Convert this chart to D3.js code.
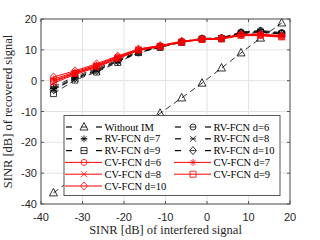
<!DOCTYPE html>
<html>
<head>
<meta charset="utf-8">
<script src="https://cdn.jsdelivr.net/npm/d3@7"></script>
<style>
  body { margin: 0; background: #fff; }
  svg { display: block; }
</style>
</head>
<body>
<script>
var width = 320, height = 240;

// x positions of the measurement points (SINR of interfered signal)
var sinrIn = [-37, -31.8, -26.6, -21.5, -16.5, -11.3, -6.1, -1.2, 3.5, 8.2, 12.9, 18];

var withoutIM = [-36.4, -31.2, -26, -20.9, -15.8, -10.6, -5.6, -0.8, 4.1, 9.0, 13.8, 18.7];

var rv6  = [-2.0, 1.4, 3.9, 6.7, 9.5, 11.2, 12.7, 13.7, 13.9, 15.8, 16.3, 15.6];
var rv7  = [-2.5, 1.0, 3.5, 6.4, 9.3, 11.0, 12.6, 13.6, 13.8, 15.6, 16.0, 15.3];
var rv8  = [-3.0, 0.6, 3.1, 6.2, 9.0, 10.9, 12.5, 13.5, 13.7, 15.4, 15.8, 15.0];
var rv9  = [-4.2, 0.2, 2.8, 5.9, 9.1, 10.8, 12.4, 13.5, 13.6, 15.2, 15.6, 15.2];
var rv10 = [-2.8, 0.8, 3.3, 6.4, 9.2, 11.0, 12.6, 13.6, 13.8, 15.5, 16.0, 15.4];

var cv6  = [0.0, 2.5, 4.8, 7.5, 10.0, 11.2, 12.6, 13.4, 13.6, 14.8, 14.8, 14.3];
var cv7  = [0.5, 2.8, 5.1, 7.8, 10.2, 11.3, 12.7, 13.5, 13.7, 15.0, 15.0, 14.5];
var cv8  = [-0.8, 2.0, 4.3, 7.1, 9.8, 11.0, 12.5, 13.3, 13.5, 14.6, 14.6, 14.1];
var cv9  = [-0.3, 2.3, 4.6, 7.3, 9.9, 11.1, 12.5, 13.4, 13.6, 14.7, 14.7, 14.2];
var cv10 = [1.2, 3.2, 5.5, 8.0, 10.3, 11.4, 12.8, 13.5, 13.8, 15.0, 15.1, 14.6];

var seriesNames = ["Without IM", "RV-FCN d=6", "RV-FCN d=7", "RV-FCN d=8", "RV-FCN d=9", "RV-FCN d=10",
                   "CV-FCN d=6", "CV-FCN d=7", "CV-FCN d=8", "CV-FCN d=9", "CV-FCN d=10"];
var seriesValues = [withoutIM, rv6, rv7, rv8, rv9, rv10, cv6, cv7, cv8, cv9, cv10];
var seriesMarkers = ["^", "o", "*", "x", "s", "d", "o", "*", "x", "s", "d"];

var xTicks = [-40, -30, -20, -10, 0, 10, 20];
var yTicks = [-40, -30, -20, -10, 0, 10, 20];

var pLeft = 41, pRight = 290, pTop = 19, pBottom = 204;

var svg = d3.select("body").append("svg")
    .attr("width", width)
    .attr("height", height);

svg.append("rect").attr("width", width).attr("height", height).attr("fill", "#fff");

var x = d3.scaleLinear().domain([-40, 20]).range([pLeft, pRight]);
var y = d3.scaleLinear().domain([-40, 20]).range([pBottom, pTop]);

// grid
var grid = svg.append("g").attr("stroke", "#e3e3e3").attr("stroke-width", 1);
xTicks.forEach(function (t) {
    grid.append("line").attr("x1", x(t)).attr("x2", x(t)).attr("y1", pTop).attr("y2", pBottom);
});
yTicks.forEach(function (t) {
    grid.append("line").attr("x1", pLeft).attr("x2", pRight).attr("y1", y(t)).attr("y2", y(t));
});

function markerPath(type) {
    switch (type) {
        case "o": return "M3,0A3,3 0 1,1 -3,0A3,3 0 1,1 3,0Z";
        case "*": return "M-3.5,0H3.5M0,-3.5V3.5M-2.5,-2.5L2.5,2.5M-2.5,2.5L2.5,-2.5";
        case "x": return "M-3,-3L3,3M-3,3L3,-3";
        case "s": return "M-3,-3H3V3H-3Z";
        case "d": return "M0,-4L3.5,0L0,4L-3.5,0Z";
        case "^": return "M0,-4.5L4,3L-4,3Z";
    }
}

function styleOf(i) {
    if (i < 6) return { color: "#000", dash: "6,4", width: 0.8 };
    return { color: "#ff0000", dash: null, width: 1 };
}

var line = d3.line()
    .x(function (d) { return x(d[0]); })
    .y(function (d) { return y(d[1]); });

var plot = svg.append("g");
seriesValues.forEach(function (vals, i) {
    var st = styleOf(i);
    var pts = sinrIn.map(function (v, j) { return [v, vals[j]]; });
    var g = plot.append("g");
    g.append("path")
        .attr("d", line(pts))
        .attr("fill", "none")
        .attr("stroke", st.color)
        .attr("stroke-width", st.width)
        .attr("stroke-dasharray", st.dash);
    g.selectAll("path.m")
        .data(pts)
        .enter()
        .append("path")
        .attr("class", "m")
        .attr("transform", function (d) { return "translate(" + x(d[0]) + "," + y(d[1]) + ")"; })
        .attr("d", markerPath(seriesMarkers[i]))
        .attr("fill", "none")
        .attr("stroke", st.color)
        .attr("stroke-width", 0.8);
});

// axes box and ticks
var axisColor = "#555";
svg.append("rect")
    .attr("x", pLeft).attr("y", pTop)
    .attr("width", pRight - pLeft).attr("height", pBottom - pTop)
    .attr("fill", "none").attr("stroke", axisColor).attr("stroke-width", 1);

var ticks = svg.append("g").attr("stroke", axisColor).attr("stroke-width", 1);
xTicks.forEach(function (t) {
    ticks.append("line").attr("x1", x(t)).attr("x2", x(t)).attr("y1", pBottom).attr("y2", pBottom - 3);
    ticks.append("line").attr("x1", x(t)).attr("x2", x(t)).attr("y1", pTop).attr("y2", pTop + 3);
});
yTicks.forEach(function (t) {
    ticks.append("line").attr("x1", pLeft).attr("x2", pLeft + 3).attr("y1", y(t)).attr("y2", y(t));
    ticks.append("line").attr("x1", pRight).attr("x2", pRight - 3).attr("y1", y(t)).attr("y2", y(t));
});

svg.append("g").selectAll("text")
    .data(xTicks).enter().append("text")
    .attr("x", function (d) { return x(d); })
    .attr("y", 221)
    .attr("text-anchor", "middle")
    .attr("font-family", "Liberation Sans, Arial, sans-serif")
    .attr("font-size", 11)
    .attr("fill", "#262626")
    .text(function (d) { return d; });

svg.append("g").selectAll("text")
    .data(yTicks).enter().append("text")
    .attr("x", 37)
    .attr("y", function (d) { return y(d) + 4; })
    .attr("text-anchor", "end")
    .attr("font-family", "Liberation Sans, Arial, sans-serif")
    .attr("font-size", 11)
    .attr("fill", "#262626")
    .text(function (d) { return d; });

svg.append("text")
    .attr("x", (pLeft + pRight) / 2)
    .attr("y", 234)
    .attr("text-anchor", "middle")
    .attr("font-family", "Liberation Serif, Times New Roman, serif")
    .attr("font-size", 12.5)
    .attr("fill", "#262626")
    .text("SINR [dB] of interfered signal");

svg.append("text")
    .attr("transform", "translate(12," + ((pTop + pBottom) / 2) + ") rotate(-90)")
    .attr("text-anchor", "middle")
    .attr("font-family", "Liberation Serif, Times New Roman, serif")
    .attr("font-size", 12.5)
    .attr("fill", "#262626")
    .text("SINR [dB] of recovered signal");

// legend
var lg = svg.append("g");
lg.append("rect")
    .attr("x", 64).attr("y", 115.5)
    .attr("width", 216).attr("height", 80)
    .attr("fill", "#fff").attr("stroke", axisColor).attr("stroke-width", 1);

var rowY = [127, 138.8, 150.6, 162.4, 174.2, 186];
var colX = [66, 175];
seriesNames.forEach(function (name, i) {
    var st = styleOf(i);
    var cx = colX[i % 2], cy = rowY[Math.floor(i / 2)];
    var item = lg.append("g");
    if (st.dash) {
        item.append("line").attr("x1", cx).attr("x2", cx + 6).attr("y1", cy).attr("y2", cy)
            .attr("stroke", st.color).attr("stroke-width", 1.2);
        item.append("line").attr("x1", cx + 30).attr("x2", cx + 36).attr("y1", cy).attr("y2", cy)
            .attr("stroke", st.color).attr("stroke-width", 1.2);
        item.append("line").attr("x1", cx + 15).attr("x2", cx + 21).attr("y1", cy).attr("y2", cy)
            .attr("stroke", st.color).attr("stroke-width", 0.8);
    } else {
        item.append("line").attr("x1", cx - 1).attr("x2", cx + 36).attr("y1", cy).attr("y2", cy)
            .attr("stroke", st.color).attr("stroke-width", 1);
    }
    item.append("path")
        .attr("transform", "translate(" + (cx + 18) + "," + cy + ")")
        .attr("d", markerPath(seriesMarkers[i]))
        .attr("fill", "none").attr("stroke", st.color).attr("stroke-width", 0.8);
    item.append("text")
        .attr("x", cx + 38.5).attr("y", cy + 3.5)
        .attr("font-family", "Liberation Serif, Times New Roman, serif")
        .attr("font-size", 10.5)
        .attr("fill", "#000")
        .text(name);
});
</script>
</body>
</html>
